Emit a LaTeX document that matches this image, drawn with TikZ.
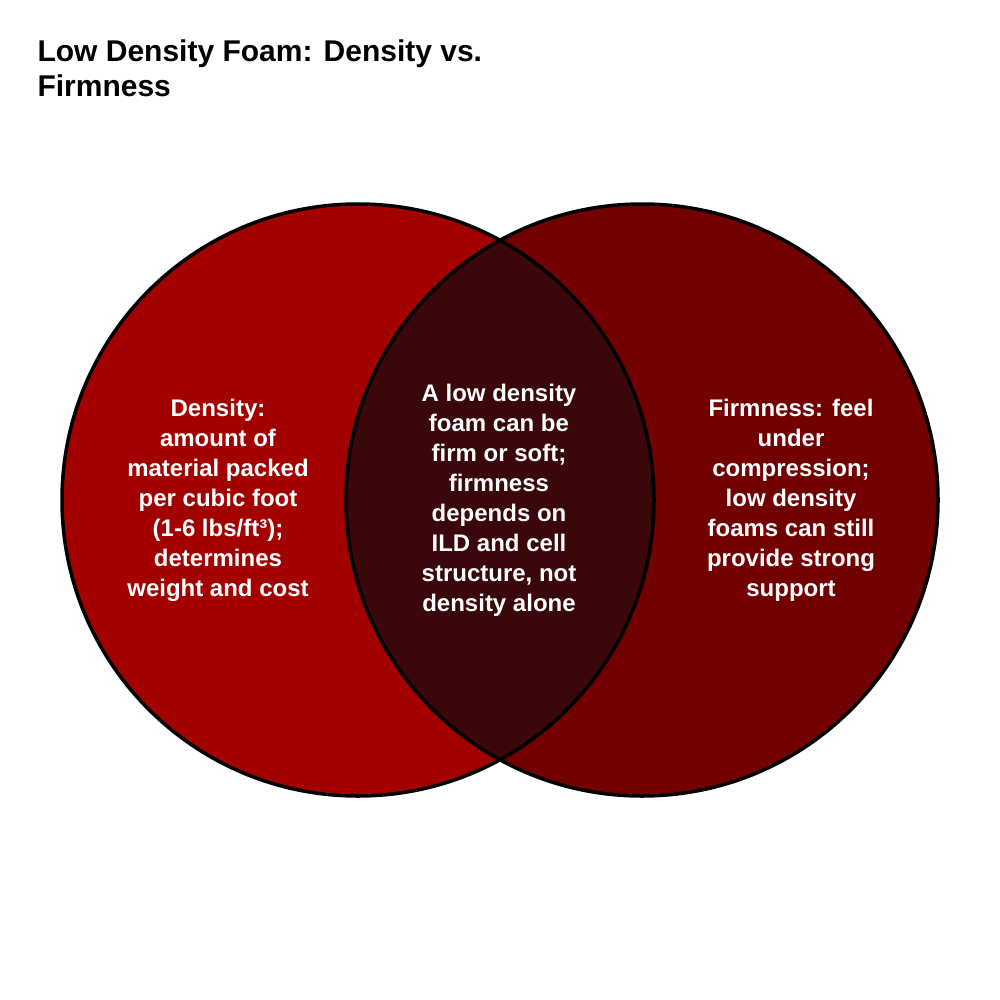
\documentclass[tikz,border=0pt]{standalone}
\usepackage{fontspec}
\setmainfont{Liberation Sans}
\begin{document}
\begin{tikzpicture}[x=1pt,y=-1pt,
  lbl/.style={text=white,font=\bfseries\fontsize{24}{30}\selectfont,align=center}]
\useasboundingbox (0,0) rectangle (1000,1000);
\fill[white] (0,0) rectangle (1000,1000);
\fill[red!64!black] (358,500) circle (296);
\fill[red!45!black] (642,500) circle (296);
\begin{scope}
\clip (358,500) circle (296);
\fill[red!60!black!40!black] (642,500) circle (296);
\fill[fill={rgb,255:red,58;green,8;blue,10}] (642,500) circle (296);
\end{scope}
\draw[line width=3.5pt] (358,500) circle (296) (642,500) circle (296);
\node[anchor=north west,align=left,font=\bfseries\fontsize{30}{35}\selectfont] (t) at (34,36) {Low Density Foam: Density vs.\\Firmness};
\node[lbl] (a) at (218,500) {Density:\\amount of\\material packed\\per cubic foot\\(1-6 lbs/ft³);\\determines\\weight and cost};
\node[lbl] (b) at (499,500) {A low density\\foam can be\\firm or soft;\\firmness\\depends on\\ILD and cell\\structure, not\\density alone};
\node[lbl] (c) at (791,500) {Firmness: feel\\under\\compression;\\low density\\foams can still\\provide strong\\support};
\end{tikzpicture}
\end{document}
